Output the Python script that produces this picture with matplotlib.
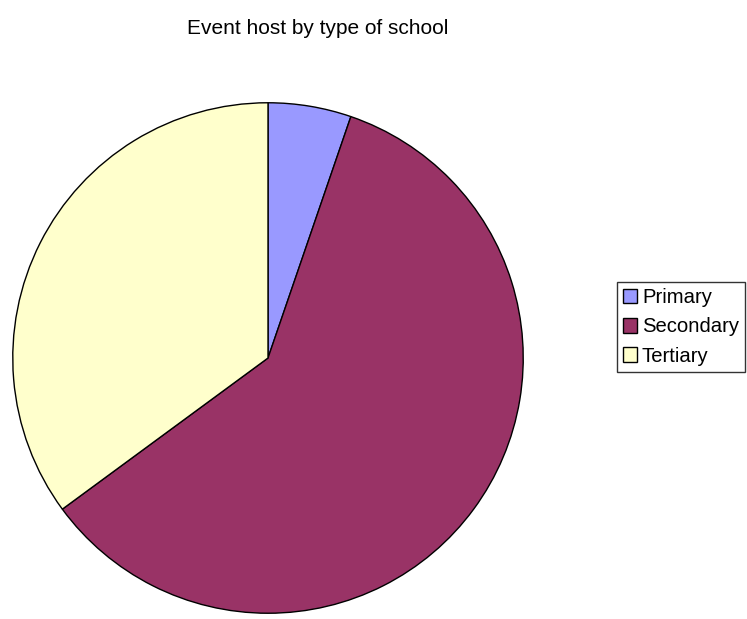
import matplotlib
matplotlib.use("Agg")
import matplotlib.pyplot as plt
from matplotlib.patches import Patch

plt.rcParams["font.family"] = ["Liberation Sans", "DejaVu Sans"]

# Data (counts)
LABELS = ["Primary", "Secondary", "Tertiary"]
VALUES = [3, 34, 20]
COLORS = ["#9999FF", "#993366", "#FFFFCC"]
TITLE = "Event host by type of school"

W, H = 747, 619
fig = plt.figure(figsize=(W / 100, H / 100), dpi=100)

# pie area in pixels: centre (268, 358), radius 256
cx, cy, r = 268, 358, 256
ax = fig.add_axes([(cx - r) / W, (H - cy - r) / H, 2 * r / W, 2 * r / H])
ax.pie(VALUES, colors=COLORS, startangle=90, counterclock=False, radius=1,
       wedgeprops={"edgecolor": "black", "linewidth": 1.0})
ax.set_xlim(-1.003, 1.003)
ax.set_ylim(-1.003, 1.003)
ax.set_aspect("equal")
ax.axis("off")

fig.text(318 / W, 1 - 28 / H, TITLE, ha="center", va="center", fontsize=15)

handles = [Patch(facecolor=c, edgecolor="black", linewidth=1.0) for c in COLORS]
leg = fig.legend(handles, LABELS, loc="center right",
                 bbox_to_anchor=(745 / W, 1 - 327 / H),
                 fontsize=14.6, frameon=True, fancybox=False,
                 handlelength=0.7, handleheight=0.7, handletextpad=0.25,
                 borderpad=0.3, labelspacing=0.5, borderaxespad=0)
leg.get_frame().set_edgecolor("black")
leg.get_frame().set_linewidth(1.0)

fig.savefig("out.png", dpi=100)
